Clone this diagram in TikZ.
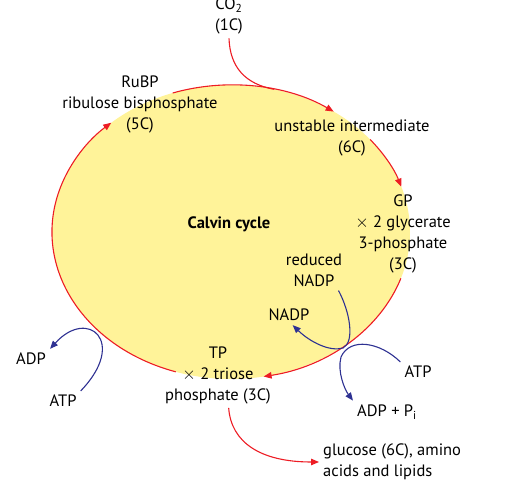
\documentclass[tikz,border=0pt]{standalone}
\usepackage{fontspec}
\setmainfont{PT Sans}
\usetikzlibrary{arrows.meta}
\definecolor{cyclefill}{RGB}{255,243,153}
\definecolor{cyclered}{RGB}{237,28,36}
\definecolor{energyblue}{RGB}{46,49,146}
\tikzset{
  lbl/.style={align=center, inner sep=4pt, font=\fontsize{16.5}{21}\selectfont},
  redflow/.style={draw=cyclered, line width=1.1pt, -{Triangle[length=8pt,width=6.5pt]}},
  blueflow/.style={draw=energyblue, line width=1.1pt, -{Triangle[length=8pt,width=6.5pt]}}
}

\begin{document}
\begin{tikzpicture}[x=1pt, y=1pt]
\useasboundingbox (0,0) rectangle (507,487);
% the cycle
\fill[cyclefill] (231,255) ellipse [x radius=179, y radius=147];
\draw[redflow] (231,255) ++(252:179 and 147) arc[start angle=252, end angle=132, x radius=179, y radius=147];
\draw[redflow] (231,255) ++(109:179 and 147) arc[start angle=109, end angle=55, x radius=179, y radius=147];
\draw[redflow] (231,255) ++(39:179 and 147) arc[start angle=39, end angle=18, x radius=179, y radius=147];
\draw[redflow] (231,255) ++(-18.4:179 and 147) arc[start angle=-18.4, end angle=-79.5, x radius=179, y radius=147];
\path (231,255) ++(76:179 and 147) coordinate (co2in);

% labels
\node[lbl] (co2) at (229,471) {CO\textsubscript{2}\\(1C)};
\node[lbl] (rubp) at (140,383) {RuBP\\ribulose bisphosphate\\(5C)};
\node[lbl] (unst) at (352,349) {unstable intermediate\\(6C)};
\node[lbl] (gp) at (403,253) {GP\\$\times$ 2 glycerate\\3-phosphate\\(3C)};
\node[lbl, font=\fontsize{16.5}{21}\selectfont\bfseries] (calvin) at (229,263) {Calvin cycle};
\node[lbl] (rednadp) at (314,217) {reduced\\NADP};
\node[lbl] (nadp) at (289,172) {NADP};
\node[lbl] (atpR) at (418,115) {ATP};
\node[lbl] (adppi) at (387,75) {ADP + P\textsubscript{i}};
\node[lbl] (tp) at (218,112) {TP\\$\times$ 2 triose\\phosphate (3C)};
\node[lbl] (adpL) at (31,128) {ADP};
\node[lbl] (atpL) at (63,86) {ATP};
\node[lbl, anchor=west, align=left] (gluc) at (319,25) {glucose (6C), amino\\acids and lipids};

% inputs and outputs
\draw[draw=cyclered, line width=1.1pt] (co2.south) .. controls (230,420) and (245,403) .. (co2in);
\draw[blueflow] (atpL.north east) .. controls (128,145) and (88,180) .. (adpL.north east);
\draw[blueflow] (rednadp.-40) .. controls (350,175) and (355,145) .. (343,139) .. controls (330,135) and (310,145) .. (nadp.-70);
\draw[blueflow] (atpR.north west) .. controls (380,145) and (350,150) .. (341,130) .. controls (337,115) and (345,97) .. (adppi.north west);
\draw[redflow] (tp.-72) .. controls (231,45) and (260,25) .. (gluc.west);
\end{tikzpicture}
\end{document}
